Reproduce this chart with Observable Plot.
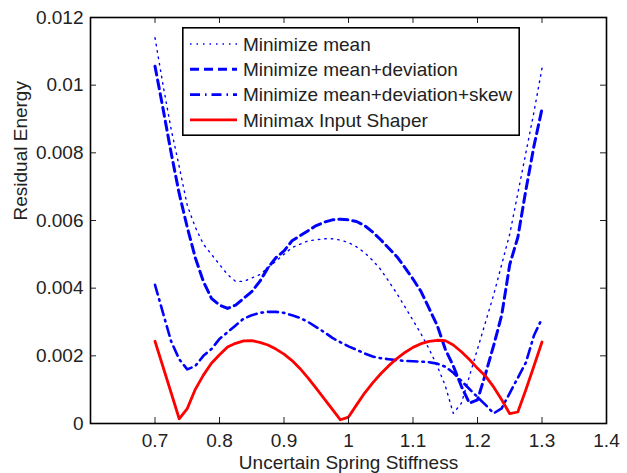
<!DOCTYPE html>
<html><head><meta charset="utf-8">
<script src="https://cdn.jsdelivr.net/npm/d3@7"></script>
<script src="https://cdn.jsdelivr.net/npm/@observablehq/plot@0.6"></script>
<style>
body{margin:0;background:#fff;font-family:"Liberation Sans",Arial,sans-serif;}
#wrap{position:relative;width:627px;height:473px;}
#legend{position:absolute;left:182px;top:27px;}
</style></head><body><div id="wrap"></div>
<script>
const stiffness = [0.7,0.7125,0.725,0.7375,0.75,0.7625,0.775,0.7875,0.8,0.8125,0.825,0.8375,0.85,0.8625,0.875,0.8875,0.9,0.9125,0.925,0.9375,0.95,0.9625,0.975,0.9875,1.0,1.0125,1.025,1.0375,1.05,1.0625,1.075,1.0875,1.1,1.1125,1.125,1.1375,1.15,1.1625,1.175,1.1875,1.2,1.2125,1.225,1.2375,1.25,1.2625,1.275,1.2875,1.3];
const minMean = [0.0114,0.0100,0.0087,0.0076,0.00645,0.0058,0.0053,0.0050,0.0047,0.0044,0.0042,0.0042,0.0043,0.0044,0.0046,0.0048,0.0050,0.0052,0.0053,0.0054,0.00543,0.00546,0.00546,0.00542,0.00535,0.00522,0.00505,0.00482,0.00455,0.00420,0.00384,0.00345,0.00305,0.00265,0.00220,0.00170,0.00112,0.0003,0.0006,0.0014,0.0022,0.0030,0.0038,0.0047,0.0056,0.0068,0.0080,0.0092,0.0105];
const minMeanDev = [0.01056,0.0093,0.0080,0.0068,0.0058,0.0049,0.0042,0.0037,0.0035,0.0034,0.0035,0.0037,0.0039,0.0042,0.0046,0.0049,0.0051,0.0054,0.00555,0.0057,0.00585,0.00595,0.00602,0.00604,0.00602,0.00597,0.00585,0.00566,0.00543,0.00518,0.00493,0.00461,0.00427,0.0039,0.0034,0.0029,0.0022,0.0017,0.0011,0.0006,0.0007,0.00147,0.0023,0.0032,0.0047,0.0055,0.0069,0.0082,0.0093];
const minMeanDevSkew = [0.0041,0.00326,0.00243,0.0019,0.0016,0.0017,0.0020,0.0022,0.0025,0.0027,0.0029,0.0031,0.0032,0.00327,0.0033,0.0033,0.00327,0.0032,0.00312,0.0030,0.00285,0.0027,0.00253,0.0024,0.00228,0.00218,0.00207,0.00198,0.00193,0.0019,0.00187,0.00185,0.00184,0.00183,0.00181,0.00177,0.00168,0.0015,0.00126,0.00102,0.00078,0.00055,0.0003,0.00045,0.0009,0.00135,0.0018,0.0026,0.0031];
const minimax = [0.00243,0.00167,0.00091,0.00014,0.00044,0.00101,0.00143,0.00178,0.00203,0.00226,0.00237,0.00244,0.00245,0.00240,0.00232,0.00220,0.00205,0.00186,0.00162,0.00134,0.00104,0.00073,0.00042,0.00011,0.00019,0.00055,0.00090,0.00120,0.00147,0.00171,0.00192,0.00210,0.00225,0.00236,0.00243,0.00246,0.00245,0.00232,0.00212,0.00189,0.00163,0.0014,0.00108,0.0007,0.00029,0.00034,0.001,0.0017,0.00241];
const xTicks = [0.7,0.8,0.9,1,1.1,1.2,1.3,1.4];
const yTicks = [0,0.002,0.004,0.006,0.008,0.01,0.012];
const seriesNames = ["Minimize mean","Minimize mean+deviation","Minimize mean+deviation+skew","Minimax Input Shaper"];

const rows = vals => stiffness.map((k,i)=>({k, e: vals[i]}));
const styles = [
  {stroke:"#0000ff", strokeWidth:1.4, strokeDasharray:"1.5,5"},
  {stroke:"#0000ff", strokeWidth:3, strokeDasharray:"9,5"},
  {stroke:"#0000ff", strokeWidth:2.6, strokeDasharray:"10,5,1.5,5"},
  {stroke:"#ff0000", strokeWidth:2.8}
];
const seriesVals = [minMean, minMeanDev, minMeanDevSkew, minimax];

const W=627, H=473, mL=90, mR=21, mT=17, mB=50;
const fh = H-mT-mB, fw = W-mL-mR, tk = 6;
const FS = 19;

const chart = Plot.plot({
  width: W, height: H, marginLeft: mL, marginRight: mR, marginTop: mT, marginBottom: mB,
  style: {fontFamily: "'Liberation Sans', Arial, sans-serif", fontSize: FS + "px", color: "#222", background: "white"},
  x: {domain: [0.6, 1.4]},
  y: {domain: [0, 0.012]},
  marks: [
    ...seriesVals.map((v,i) => Plot.line(rows(v), {x: "k", y: "e", ...styles[i], strokeLinejoin:"round"})),
    Plot.ruleX(xTicks, {insetTop: fh-tk, stroke: "#222", strokeWidth: 1}),
    Plot.ruleX(xTicks, {insetBottom: fh-tk, stroke: "#222", strokeWidth: 1}),
    Plot.ruleY(yTicks, {insetRight: fw-tk, stroke: "#222", strokeWidth: 1}),
    Plot.ruleY(yTicks, {insetLeft: fw-tk, stroke: "#222", strokeWidth: 1}),
    Plot.frame({stroke: "#000", strokeWidth: 1.6}),
    Plot.axisX(xTicks, {tickSize: 0, tickPadding: 10, tickFormat: d => String(d), label: null, fontSize: FS}),
    Plot.axisY(yTicks, {tickSize: 0, tickPadding: 7, tickFormat: d => String(d), label: null, fontSize: FS}),
    Plot.text(["Uncertain Spring Stiffness"], {text: d => d, frameAnchor: "bottom", dy: 39, lineAnchor: "middle", fontSize: FS, fill: "#222"}),
    Plot.text(["Residual Energy"], {text: d => d, frameAnchor: "left", dx: -70, rotate: -90, lineAnchor: "middle", fontSize: FS, fill: "#222"})
  ]
});
const wrap = document.getElementById("wrap");
wrap.appendChild(chart);

// legend
const lw = 338, lh = 109;
const ns = "http://www.w3.org/2000/svg";
const leg = document.createElementNS(ns, "svg");
leg.setAttribute("id","legend");
leg.setAttribute("width", lw); leg.setAttribute("height", lh);
const box = document.createElementNS(ns, "rect");
box.setAttribute("x", 0.8); box.setAttribute("y", 0.8);
box.setAttribute("width", lw-1.6); box.setAttribute("height", lh-1.6);
box.setAttribute("fill","white"); box.setAttribute("stroke","#000"); box.setAttribute("stroke-width",1.6);
leg.appendChild(box);
seriesNames.forEach((name,i) => {
  const cy = 17 + i*25.3;
  const ln = document.createElementNS(ns, "line");
  ln.setAttribute("x1", 8); ln.setAttribute("x2", 55);
  ln.setAttribute("y1", cy); ln.setAttribute("y2", cy);
  ln.setAttribute("stroke", styles[i].stroke);
  ln.setAttribute("stroke-width", styles[i].strokeWidth);
  if (styles[i].strokeDasharray) ln.setAttribute("stroke-dasharray", styles[i].strokeDasharray);
  leg.appendChild(ln);
  const t = document.createElementNS(ns, "text");
  t.setAttribute("x", 61); t.setAttribute("y", cy);
  t.setAttribute("dy", "0.35em");
  t.setAttribute("font-size", FS + "px");
  t.setAttribute("font-family", "'Liberation Sans', Arial, sans-serif");
  t.setAttribute("fill", "#222");
  t.textContent = name;
  leg.appendChild(t);
});
wrap.appendChild(leg);
</script></body></html>
